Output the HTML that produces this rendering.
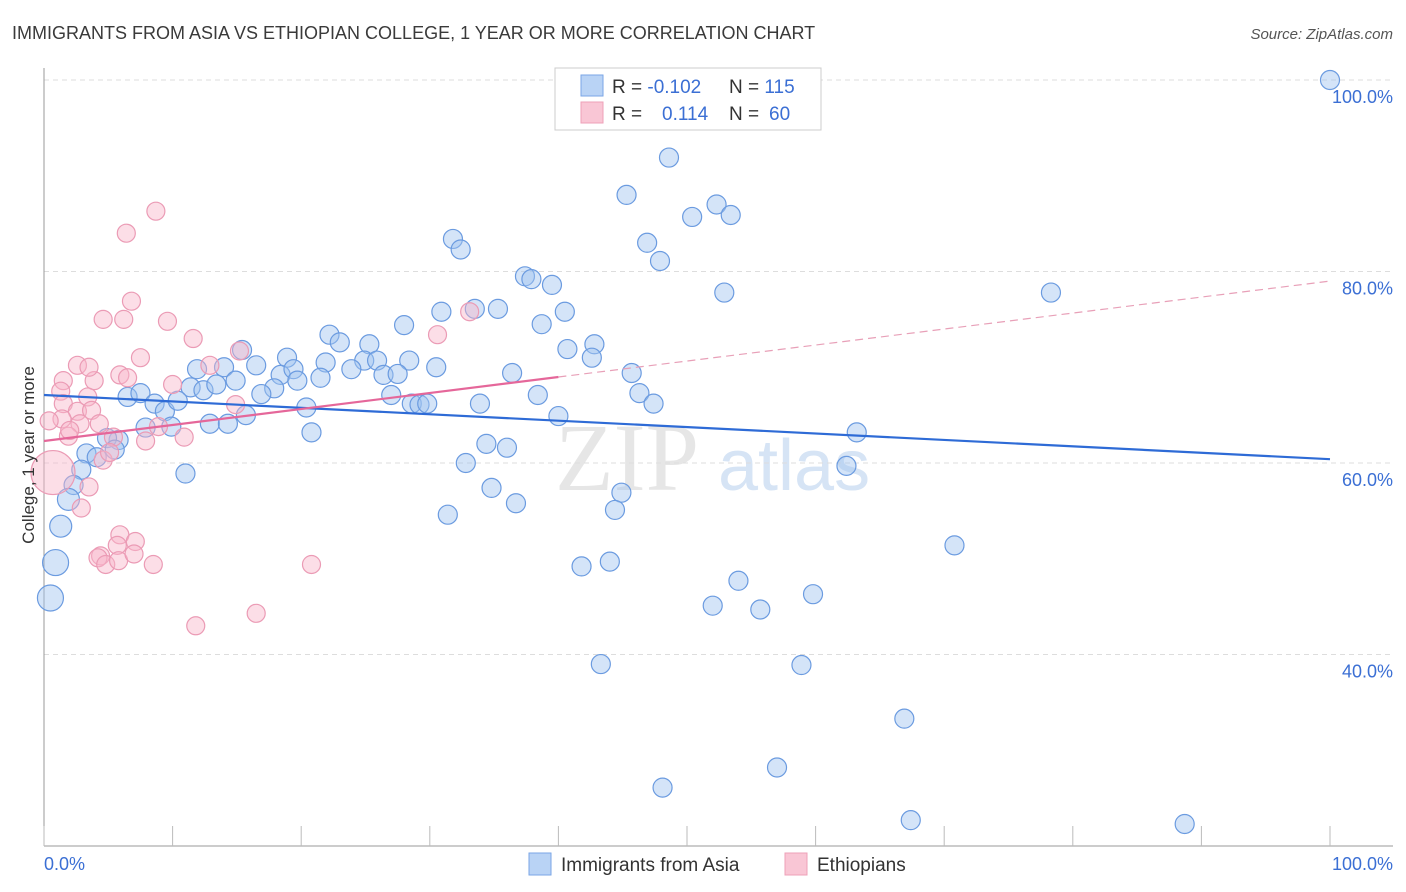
<!DOCTYPE html>
<html><head><meta charset="utf-8"><style>
body{margin:0;background:#fff;font-family:"Liberation Sans",sans-serif;}
svg{display:block}
</style></head><body>
<svg id="chart" width="1406" height="892" xmlns="http://www.w3.org/2000/svg">
<text x="12" y="39" font-size="18" fill="#3a3a3a">IMMIGRANTS FROM ASIA VS ETHIOPIAN COLLEGE, 1 YEAR OR MORE CORRELATION CHART</text>
<text x="1393" y="39" font-size="15" fill="#555" font-style="italic" text-anchor="end">Source: ZipAtlas.com</text>
<g><text x="555" y="490" font-size="96" fill="#e6e6e6" font-family="Liberation Serif,serif">ZIP</text><text x="718" y="490" font-size="72" fill="#d6e4f5">atlas</text></g>
<g id="grid"></g>
<g id="axes"></g>
<g id="blue"></g>
<g id="pink"></g>
<g id="trends"></g>
<text transform="translate(34,455) rotate(-90)" font-size="17" fill="#333" text-anchor="middle">College, 1 year or more</text>
<g>
<rect x="555" y="68" width="266" height="62" fill="#fff" stroke="#ccc"/>
<rect x="581" y="75" width="22" height="21" fill="#b9d3f5" stroke="#7aa6e6"/>
<rect x="581" y="102" width="22" height="21" fill="#f9c6d5" stroke="#eea0b8"/>
<text x="612" y="93" font-size="19" fill="#333">R = <tspan fill="#3b6fd4">-0.102</tspan><tspan x="729">N = </tspan><tspan fill="#3b6fd4">115</tspan></text>
<text x="612" y="120" font-size="19" fill="#333">R = <tspan x="662" fill="#3b6fd4">0.114</tspan><tspan x="729">N = </tspan><tspan x="769" fill="#3b6fd4">60</tspan></text>
</g>
<g>
<rect x="529" y="853" width="22" height="22" fill="#b9d3f5" stroke="#7aa6e6"/>
<text x="561" y="871" font-size="19" fill="#333">Immigrants from Asia</text>
<rect x="785" y="853" width="22" height="22" fill="#f9c6d5" stroke="#eea0b8"/>
<text x="817" y="871" font-size="19" fill="#333">Ethiopians</text>
</g>
</svg>
<script>
const yTicks=[40,60,80,100];
const yTickLabels=["40.0%","60.0%","80.0%","100.0%"];
const xTicks=[0,10,20,30,40,50,60,70,80,90,100];
const xEndLabels=["0.0%","100.0%"];
const asiaX=[100,48.6,45.3,52.3,50.4,53.4,31.8,32.4,46.9,47.9,37.4,37.9,39.5,52.9,78.3,30.9,33.5,35.3,40.5,28.0,38.7,22.2,23.0,25.3,42.8,40.7,42.6,15.4,18.9,21.9,24.9,25.9,28.4,23.9,26.4,27.5,30.5,36.4,45.7,11.9,14.0,16.5,18.4,19.4,21.5,11.4,12.4,13.4,14.9,17.9,16.9,19.7,46.3,38.4,27.0,28.6,29.2,29.8,33.9,47.4,6.5,7.5,8.6,9.4,10.4,20.4,15.7,12.9,14.3,40.0,9.9,7.9,20.8,63.2,5.8,4.9,3.3,4.1,5.5,34.4,36.0,32.8,62.4,11.0,2.9,2.3,1.9,34.8,36.7,44.9,44.4,31.4,1.3,70.8,0.9,41.8,44.0,54.0,59.8,52.0,55.7,0.5,43.3,58.9,66.9,57.0,48.1,67.4,88.7];
const asiaY=[100,91.9,88.0,87.0,85.7,85.9,83.4,82.3,83.0,81.1,79.5,79.2,78.6,77.8,77.8,75.8,76.1,76.1,75.8,74.4,74.5,73.4,72.6,72.4,72.4,71.9,71.0,71.8,71.0,70.5,70.7,70.7,70.7,69.8,69.2,69.3,70.0,69.4,69.4,69.8,70.0,70.2,69.2,69.8,68.9,67.9,67.6,68.2,68.6,67.8,67.2,68.6,67.3,67.1,67.1,66.2,66.1,66.2,66.2,66.2,66.9,67.3,66.2,65.4,66.5,65.8,65.0,64.1,64.1,64.9,63.8,63.7,63.2,63.2,62.4,62.6,61.0,60.6,61.4,62.0,61.6,60.0,59.7,58.9,59.3,57.7,56.2,57.4,55.8,56.9,55.1,54.6,53.4,51.4,49.6,49.2,49.7,47.7,46.3,45.1,44.7,45.9,39.0,38.9,33.3,28.2,26.1,22.7,22.3];
const ethX=[8.7,6.4,6.8,4.6,6.2,9.6,11.6,15.2,30.6,33.1,12.9,7.5,2.6,1.5,3.9,5.9,6.5,10.0,1.3,3.4,1.5,2.6,3.7,1.4,2.8,1.9,4.3,5.4,7.9,10.9,14.9,4.6,3.5,2.9,0.7,5.1,8.9,5.9,5.7,7.1,4.4,4.2,4.8,5.8,8.5,7.0,11.8,16.5,20.8,0.4,2.0,3.5];
const ethY=[86.3,84.0,76.9,75.0,75.0,74.8,73.0,71.7,73.4,75.8,70.2,71.0,70.2,68.6,68.6,69.2,68.9,68.2,67.5,66.9,66.2,65.4,65.5,64.6,64.1,62.8,64.1,62.7,62.3,62.7,66.1,60.3,57.5,55.3,59.0,61.1,63.8,52.5,51.4,51.8,50.3,50.1,49.4,49.8,49.4,50.5,43.0,44.3,49.4,64.4,63.4,70.0];
const asiaTrend=[67.1,60.4];
const ethTrend=[62.3,79.0];
const NS="http://www.w3.org/2000/svg";
const X0=44,X1=1330,Y0=846,Y1=80,YMIN=20,YMAX=100;
const sx=v=>X0+(X1-X0)*v/100;
const sy=v=>Y0-(Y0-Y1)*(v-YMIN)/(YMAX-YMIN);
function mk(tag,attrs,parent){const e=document.createElementNS(NS,tag);for(const k in attrs)e.setAttribute(k,attrs[k]);parent.appendChild(e);return e;}
const grid=document.getElementById('grid'),axes=document.getElementById('axes');
yTicks.forEach((t,i)=>{
 const l=mk('line',{x1:44,x2:1393,y1:sy(t),y2:sy(t),stroke:'#ddd','stroke-dasharray':'5,4'},grid);
 
 
 const tx=mk('text',{x:1393,y:sy(t)+23,'font-size':18,fill:'#3b6fd4','text-anchor':'end'},axes);
 tx.textContent=yTickLabels[i];
 
 
});
const ya=mk('line',{x1:44,x2:44,y1:68,y2:846,stroke:'#999'},axes);


const xa=mk('line',{x1:44,x2:1393,y1:846,y2:846,stroke:'#999'},axes);


xTicks.forEach(t=>{
 const l=mk('line',{x1:sx(t),x2:sx(t),y1:826,y2:846,stroke:'#bbb'},axes);
 
 
});
[[0,'start',44],[100,'end',1393]].forEach((d,i)=>{
 const tx=mk('text',{x:d[2],y:870,'font-size':18,fill:'#3b6fd4','text-anchor':d[1]},axes);
 tx.textContent=xEndLabels[i];
 
 
});
function pts(xs,ys,g,fill,stroke,name,big){
 xs.forEach((x,i)=>{
  let r=9.5; if(big) r=big(x,ys[i]);
  const c=mk('circle',{cx:sx(x),cy:sy(ys[i]),r:r,fill:fill,stroke:stroke,'stroke-width':1.2},g);
  
  
 });
}
pts(asiaX,asiaY,document.getElementById('blue'),'rgba(160,196,240,0.45)','#6b9be0','asia-point',(x,y)=>x<1?13:(x<2?11:9.5));
pts(ethX,ethY,document.getElementById('pink'),'rgba(248,182,202,0.45)','#eb9bb5','ethiopian-point',(x,y)=>x<1&&y>58&&y<60?22:9);
const tr=document.getElementById('trends');
const bl=mk('line',{x1:sx(0),y1:sy(asiaTrend[0]),x2:sx(100),y2:sy(asiaTrend[1]),stroke:'#2e6bd6','stroke-width':2.2},tr);


const ey=x=>ethTrend[0]+(ethTrend[1]-ethTrend[0])*x/100;
const pl=mk('line',{x1:sx(0),y1:sy(ey(0)),x2:sx(40),y2:sy(ey(40)),stroke:'#e5679a','stroke-width':2.2},tr);


const pd=mk('line',{x1:sx(40),y1:sy(ey(40)),x2:sx(100),y2:sy(ey(100)),stroke:'#e8a0b8','stroke-width':1.2,'stroke-dasharray':'8,5'},tr);


</script>
</body></html>
